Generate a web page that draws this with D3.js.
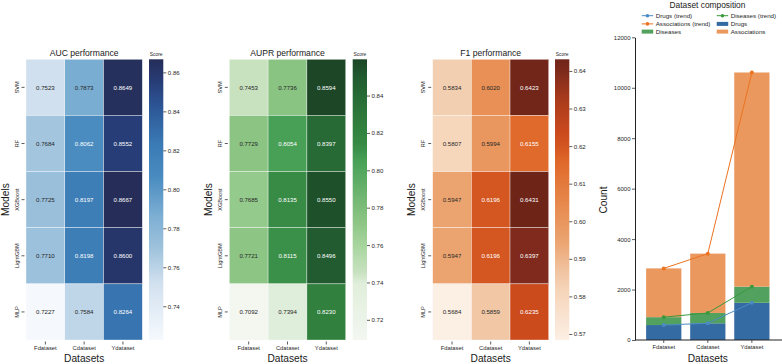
<!DOCTYPE html>
<html>
<head>
<meta charset="utf-8">
<script src="https://cdn.jsdelivr.net/npm/d3@7"></script>
<style>
  body { margin: 0; background: #fff; }
  svg { font-family: "Liberation Sans", Arial, sans-serif; display: block; }
</style>
</head>
<body>
<svg id="chart" width="782" height="364"></svg>
<script>
// data
const models = ["SVM", "RF", "XGBoost", "LightGBM", "MLP"];
const datasets = ["Fdataset", "Cdataset", "Ydataset"];

const aucValues = [
  [0.7523, 0.7873, 0.8649],
  [0.7684, 0.8062, 0.8552],
  [0.7725, 0.8197, 0.8667],
  [0.7710, 0.8198, 0.8600],
  [0.7227, 0.7584, 0.8264]
];
const auprValues = [
  [0.7453, 0.7736, 0.8594],
  [0.7729, 0.8054, 0.8397],
  [0.7685, 0.8135, 0.8550],
  [0.7721, 0.8115, 0.8496],
  [0.7092, 0.7394, 0.8230]
];
const f1Values = [
  [0.5834, 0.6020, 0.6423],
  [0.5807, 0.5994, 0.6155],
  [0.5947, 0.6196, 0.6431],
  [0.5947, 0.6196, 0.6397],
  [0.5684, 0.5859, 0.6235]
];

const aucTicks = [0.74, 0.76, 0.78, 0.80, 0.82, 0.84, 0.86];
const auprTicks = [0.72, 0.74, 0.76, 0.78, 0.80, 0.82, 0.84];
const f1Ticks = [0.57, 0.58, 0.59, 0.60, 0.61, 0.62, 0.63, 0.64];

const drugs = [593, 663, 1475];
const diseases = [313, 409, 640];
const associations = [1933, 2352, 8490];
const countTicks = [0, 2000, 4000, 6000, 8000, 10000, 12000];

// colour ramps (t in 0..1)
const blueRamp = d3.scaleLinear()
  .domain([0, 0.2, 0.33, 0.45, 0.58, 0.7, 0.84, 0.92, 1])
  .range(["#f5f9fd", "#d2e1ef", "#9ec2dc", "#7aadd2", "#4a8cc0", "#3a7ab5", "#2c5393", "#273d77", "#262d58"]);
const greenRamp = d3.scaleLinear()
  .domain([0, 0.2, 0.24, 0.33, 0.42, 0.64, 0.69, 0.76, 0.87, 0.94, 1])
  .range(["#f3f7f0", "#e0eedb", "#c8e2c0", "#aad6a0", "#8dc585", "#47a056", "#388c46", "#31803d", "#276a35", "#215a2f", "#1c4626"]);
const orangeRamp = d3.scaleLinear()
  .domain([0, 0.17, 0.23, 0.35, 0.45, 0.63, 0.69, 0.74, 0.86, 0.95, 1])
  .range(["#fcefe4", "#f6d6bb", "#f1c8a7", "#eba471", "#e89056", "#e06a2b", "#d35520", "#cb4a1d", "#a83a1c", "#812b1c", "#6e2518"]);

const svg = d3.select("#chart");
const plotTop = 59.3, plotBottom = 340;
const tickFont = 5.8;

function heatmap(opts) {
  const { values, ticks, ramp, title, x0, x1, cbX } = opts;
  const flat = values.flat();
  const lo = d3.min(flat), hi = d3.max(flat);
  const t = d3.scaleLinear().domain([lo, hi]);
  const color = v => ramp(t(v));

  const x = d3.scaleBand().domain(datasets).range([x0, x1]);
  const y = d3.scaleBand().domain(models).range([plotTop, plotBottom]);
  const g = svg.append("g");

  const cells = [];
  values.forEach((row, i) => row.forEach((v, j) => cells.push({ m: models[i], d: datasets[j], v })));

  g.selectAll("rect.cell").data(cells).enter().append("rect")
    .attr("x", d => x(d.d)).attr("y", d => y(d.m))
    .attr("width", x.bandwidth()).attr("height", y.bandwidth())
    .attr("fill", d => color(d.v))
    .attr("stroke", "#fff").attr("stroke-width", 0.5).attr("stroke-opacity", 0.7);

  g.selectAll("text.val").data(cells).enter().append("text")
    .attr("x", d => x(d.d) + x.bandwidth() / 2)
    .attr("y", d => y(d.m) + y.bandwidth() / 2)
    .attr("dy", "0.35em").attr("text-anchor", "middle")
    .attr("font-size", 6.1)
    .attr("fill", d => t(d.v) > 0.52 ? "#fff" : "#262626")
    .text(d => d.v.toFixed(4));

  // x axis
  const xa = g.append("g").attr("transform", `translate(0,${plotBottom + 1.5})`)
    .call(d3.axisBottom(x).tickSize(3).tickPadding(1.5));
  xa.select(".domain").remove();
  xa.selectAll("line").attr("stroke", "#333").attr("stroke-width", 0.8);
  xa.selectAll("text").attr("font-size", tickFont).attr("fill", "#262626").attr("font-family", null);

  // y axis (rotated labels)
  const ya = g.append("g").attr("transform", `translate(${x0 - 1.5},0)`)
    .call(d3.axisLeft(y).tickSize(3).tickPadding(0));
  ya.select(".domain").remove();
  ya.selectAll("line").attr("stroke", "#333").attr("stroke-width", 0.8);
  ya.selectAll("text").attr("font-size", 5.6).attr("fill", "#262626").attr("font-family", null)
    .attr("text-anchor", "middle").attr("x", null).attr("dy", null)
    .attr("transform", "translate(-6,0) rotate(-90)");

  g.append("text").attr("x", (x0 + x1) / 2).attr("y", 56.3)
    .attr("text-anchor", "middle").attr("font-size", 8.6).attr("fill", "#1a1a1a").text(title);
  g.append("text").attr("x", (x0 + x1) / 2).attr("y", 362)
    .attr("text-anchor", "middle").attr("font-size", 10.2).attr("fill", "#1a1a1a").text("Datasets");
  g.append("text").attr("transform", `translate(${x0 - 17.5},${(plotTop + plotBottom) / 2}) rotate(-90)`)
    .attr("text-anchor", "middle").attr("font-size", 10.2).attr("fill", "#1a1a1a").text("Models");

  // colorbar
  const cbW = 14.3;
  const cy = d3.scaleLinear().domain([lo, hi]).range([plotBottom, plotTop]);
  const gradId = "grad" + title.split(" ")[0];
  const grad = svg.append("defs").append("linearGradient").attr("id", gradId)
    .attr("x1", 0).attr("y1", 1).attr("x2", 0).attr("y2", 0);
  d3.range(0, 1.0001, 0.02).forEach(s => {
    grad.append("stop").attr("offset", s).attr("stop-color", ramp(s));
  });
  g.append("rect").attr("x", cbX).attr("y", plotTop).attr("width", cbW).attr("height", plotBottom - plotTop)
    .attr("fill", `url(#${gradId})`);
  const ca = g.append("g").attr("transform", `translate(${cbX + cbW},0)`)
    .call(d3.axisRight(cy).tickValues(ticks).tickSize(3).tickPadding(1.5).tickFormat(d3.format(".2f")));
  ca.select(".domain").remove();
  ca.selectAll("line").attr("stroke", "#333").attr("stroke-width", 0.8);
  ca.selectAll("text").attr("font-size", 6.1).attr("fill", "#262626").attr("font-family", null);
  g.append("text").attr("x", cbX + cbW / 2).attr("y", 55.5).attr("text-anchor", "middle")
    .attr("font-size", 4.9).attr("fill", "#262626").text("Score");
}

heatmap({ values: aucValues, ticks: aucTicks, ramp: blueRamp, title: "AUC performance", x0: 26, x1: 142.3, cbX: 149 });
heatmap({ values: auprValues, ticks: auprTicks, ramp: greenRamp, title: "AUPR performance", x0: 229.3, x1: 345.7, cbX: 352.7 });
heatmap({ values: f1Values, ticks: f1Ticks, ramp: orangeRamp, title: "F1 performance", x0: 432.7, x1: 548.7, cbX: 555 });

// ---- stacked bar chart ----
const bx = d3.scaleBand().domain(datasets).range([637.3, 778.3]).padding(0.2);
const by = d3.scaleLinear().domain([0, 12000]).range([340, 37.3]);
const bg = svg.append("g");

const rows = datasets.map((d, i) => ({ d, drugs: drugs[i], diseases: diseases[i], associations: associations[i] }));
const keys = ["drugs", "diseases", "associations"];
const barColor = { drugs: "#356ba3", diseases: "#53a15e", associations: "#ea985e" };
const lineColor = { drugs: "#4a8bc4", diseases: "#3a993f", associations: "#ec7320" };
const stack = d3.stack().keys(keys)(rows);

stack.forEach(layer => {
  bg.selectAll(null).data(layer).enter().append("rect")
    .attr("x", d => bx(d.data.d)).attr("width", bx.bandwidth())
    .attr("y", d => by(d[1])).attr("height", d => by(d[0]) - by(d[1]))
    .attr("fill", barColor[layer.key]);
});

stack.forEach(layer => {
  const line = d3.line().x(d => bx(d.data.d) + bx.bandwidth() / 2).y(d => by(d[1]));
  bg.append("path").datum(layer).attr("d", line)
    .attr("fill", "none").attr("stroke", lineColor[layer.key]).attr("stroke-width", 1);
  bg.selectAll(null).data(layer).enter().append("circle")
    .attr("cx", d => bx(d.data.d) + bx.bandwidth() / 2).attr("cy", d => by(d[1]))
    .attr("r", 2).attr("fill", lineColor[layer.key]);
});

const bxa = bg.append("g").attr("transform", "translate(0,340)")
  .call(d3.axisBottom(bx).tickSize(3).tickPadding(1.5).tickSizeOuter(0));
bxa.select(".domain").attr("d", "M635,0H782").attr("stroke", "#222").attr("stroke-width", 1);
bxa.selectAll("line").attr("stroke", "#333").attr("stroke-width", 0.8);
bxa.selectAll("text").attr("font-size", tickFont).attr("fill", "#262626").attr("font-family", null);

const bya = bg.append("g").attr("transform", "translate(635,0)")
  .call(d3.axisLeft(by).tickValues(countTicks).tickSize(3).tickPadding(1.5).tickSizeOuter(0).tickFormat(d3.format("d")));
bya.select(".domain").attr("stroke", "#222").attr("stroke-width", 1);
bya.selectAll("line").attr("stroke", "#333").attr("stroke-width", 0.8);
bya.selectAll("text").attr("font-size", 6).attr("fill", "#262626").attr("font-family", null);

bg.append("text").attr("transform", "translate(607,200) rotate(-90)")
  .attr("text-anchor", "middle").attr("font-size", 10.2).attr("fill", "#1a1a1a").text("Count");
bg.append("text").attr("x", 707.8).attr("y", 362)
  .attr("text-anchor", "middle").attr("font-size", 10.2).attr("fill", "#1a1a1a").text("Datasets");
bg.append("text").attr("x", 707.5).attr("y", 8.3)
  .attr("text-anchor", "middle").attr("font-size", 8.4).attr("fill", "#1a1a1a").text("Dataset composition");

// legend, two columns filled column-wise
const legendItems = [
  { label: "Drugs (trend)", type: "line", c: lineColor.drugs, col: 0, row: 0 },
  { label: "Associations (trend)", type: "line", c: lineColor.associations, col: 0, row: 1 },
  { label: "Diseases", type: "bar", c: barColor.diseases, col: 0, row: 2 },
  { label: "Diseases (trend)", type: "line", c: lineColor.diseases, col: 1, row: 0 },
  { label: "Drugs", type: "bar", c: barColor.drugs, col: 1, row: 1 },
  { label: "Associations", type: "bar", c: barColor.associations, col: 1, row: 2 }
];
const colX = [641.7, 716.7], rowY = [15.7, 23.9, 31.6];
const lg = svg.append("g");
legendItems.forEach(it => {
  const x = colX[it.col], y = rowY[it.row];
  if (it.type === "line") {
    lg.append("line").attr("x1", x).attr("x2", x + 11.5).attr("y1", y).attr("y2", y)
      .attr("stroke", it.c).attr("stroke-width", 1);
    lg.append("circle").attr("cx", x + 5.75).attr("cy", y).attr("r", 1.8).attr("fill", it.c);
  } else {
    lg.append("rect").attr("x", x).attr("y", y - 2).attr("width", 11.5).attr("height", 4).attr("fill", it.c);
  }
  lg.append("text").attr("x", x + 14).attr("y", y).attr("dy", "0.35em")
    .attr("font-size", 6.2).attr("fill", "#262626").text(it.label);
});
</script>
</body>
</html>
